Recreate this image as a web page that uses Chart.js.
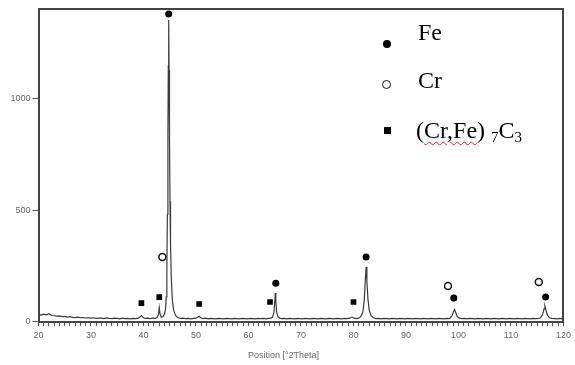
<!DOCTYPE html>
<html>
<head>
<meta charset="utf-8">
<script src="https://cdn.jsdelivr.net/npm/chart.js@4.4.0/dist/chart.umd.min.js"></script>
<style>
  html, body { margin: 0; padding: 0; background: #fff; }
  #wrap { position: relative; width: 575px; height: 365px; }
  #wrap canvas { position: absolute; left: 0; top: 0; }
  .key { position: absolute; font-family: "Liberation Serif", serif; font-size: 24px; line-height: 24px; color: #000; white-space: nowrap; }
  .key sub { font-size: 15px; line-height: 0; vertical-align: -4px; }
  .spell { text-decoration: underline wavy #e02020; text-decoration-thickness: 1px; text-underline-offset: 3px; }
  .dot { position: absolute; width: 8px; height: 8px; border-radius: 50%; background: #000; }
  .ring { position: absolute; width: 9px; height: 9px; border-radius: 50%; border: 1.5px solid #111; box-sizing: border-box; }
  .sq { position: absolute; width: 7px; height: 7px; background: #000; }
</style>
</head>
<body>
<div id="wrap">
  <canvas id="xrdChart" width="575" height="365"></canvas>
  <span class="dot" style="left:383px; top:40px;"></span>
  <div class="key" style="left:418px; top:20px;">Fe</div>
  <span class="ring" style="left:382px; top:80px;"></span>
  <div class="key" style="left:418px; top:68px;">Cr</div>
  <span class="sq" style="left:384px; top:127px;"></span>
  <div class="key" style="left:416px; top:118px;">(<span class="spell">Cr,Fe</span>) <sub>7</sub>C<sub>3</sub></div>
</div>
<script>
// diffractogram (2theta in degrees, counts)
const twoTheta = [
  20, 20.5, 21, 21.5, 22, 22.5, 23, 23.5, 24, 24.5, 25, 25.5, 26, 26.5, 27, 27.5, 28, 28.5, 29, 29.5,
  30, 30.5, 31, 31.5, 32, 32.5, 33, 33.5, 34, 34.5, 35, 35.5, 36, 36.5, 37, 37.5, 38, 38.5, 39, 39.3,
  39.6, 39.9, 40.3, 40.8, 41.3, 41.8, 42.2, 42.6, 42.85, 43.0, 43.15, 43.4, 43.7, 44.0, 44.2, 44.35, 44.45, 44.55, 44.65, 44.73,
  44.8, 44.87, 44.95, 45.05, 45.15, 45.3, 45.5, 45.75, 46.1, 46.5, 47, 47.5, 48, 48.5, 49, 49.5, 50, 50.3, 50.6, 50.9,
  51.3, 51.8, 52.3, 52.8, 53.3, 53.8, 54.3, 54.8, 55.3, 55.8, 56.3, 56.8, 57.3, 57.8, 58.3, 58.8, 59.3, 59.8, 60.3, 60.8,
  61.3, 61.8, 62.3, 62.8, 63.3, 63.8, 64.3, 64.6, 64.85, 65.0, 65.1, 65.2, 65.35, 65.6, 65.9, 66.3, 66.8, 67.3, 67.8, 68.3,
  68.8, 69.3, 69.8, 70.3, 70.8, 71.3, 71.8, 72.3, 72.8, 73.3, 73.8, 74.3, 74.8, 75.3, 75.8, 76.3, 76.8, 77.3, 77.8, 78.3,
  78.8, 79.3, 79.7, 80.1, 80.6, 81.0, 81.4, 81.8, 82.05, 82.25, 82.4, 82.55, 82.75, 83.0, 83.35, 83.8, 84.3, 84.8, 85.3, 85.8,
  86.3, 86.8, 87.3, 87.8, 88.3, 88.8, 89.3, 89.8, 90.3, 90.8, 91.3, 91.8, 92.3, 92.8, 93.3, 93.8, 94.3, 94.8, 95.3, 95.8,
  96.3, 96.8, 97.3, 97.8, 98.1, 98.4, 98.8, 99.1, 99.25, 99.45, 99.75, 100.2, 100.7, 101.2, 101.7, 102.2, 102.7, 103.2, 103.7, 104.2,
  104.7, 105.2, 105.7, 106.2, 106.7, 107.2, 107.7, 108.2, 108.7, 109.2, 109.7, 110.2, 110.7, 111.2, 111.7, 112.2, 112.7, 113.2, 113.7, 114.2,
  114.7, 115.2, 115.6, 116.0, 116.3, 116.45, 116.65, 116.95, 117.35, 117.8, 118.3, 118.8, 119.3, 119.8, 120
];
const counts = [
  30, 27, 31, 28, 33, 25, 24, 22, 23, 20, 21, 18, 20, 17, 16, 18, 15, 16, 14, 15,
  13, 15, 12, 14, 13, 11, 14, 12, 11, 13, 12, 10, 13, 11, 12, 10, 12, 11, 13, 18,
  25, 17, 12, 13, 11, 14, 12, 16, 30, 60, 32, 17, 20, 32, 55, 110, 240, 480, 850, 1150,
  1356, 1130, 820, 540, 340, 190, 95, 48, 25, 16, 12, 13, 11, 12, 10, 12, 13, 17, 22, 15,
  11, 13, 10, 12, 11, 10, 12, 11, 10, 12, 11, 10, 12, 11, 10, 12, 11, 10, 12, 11,
  10, 12, 11, 12, 10, 12, 13, 18, 40, 85, 126, 90, 42, 20, 14, 11, 12, 10, 12, 11,
  10, 12, 11, 10, 12, 11, 10, 12, 11, 10, 12, 11, 10, 12, 11, 10, 12, 11, 10, 12,
  11, 13, 18, 13, 11, 13, 20, 42, 95, 185, 243, 180, 100, 48, 24, 15, 11, 12, 10, 12,
  11, 10, 12, 11, 10, 12, 11, 10, 12, 11, 10, 12, 11, 10, 12, 11, 10, 12, 11, 10,
  12, 11, 10, 12, 11, 13, 26, 45, 52, 40, 20, 13, 11, 12, 10, 12, 11, 10, 12, 11,
  10, 12, 11, 10, 12, 11, 10, 12, 11, 10, 12, 11, 10, 12, 11, 10, 12, 11, 10, 12,
  11, 12, 14, 28, 55, 68, 50, 27, 15, 12, 11, 10, 12, 11, 12
];

// phase markers placed above the peaks
const feAngles = [44.8, 65.2, 82.4, 99.1, 116.6];
const feLevels = [1383, 170, 288, 104, 108];
const crAngles = [43.6, 98.0, 115.3];
const crLevels = [288, 158, 176];
const carbideAngles = [39.6, 43.0, 50.6, 64.1, 80.0];
const carbideLevels = [81, 108, 77, 86, 86];

const xLabels = [20, 30, 40, 50, 60, 70, 80, 90, 100, 110, 120];
const yLabels = [0, 500, 1000];

const tickFont = { family: 'Liberation Sans', size: 9 };
const pairs = (xs, ys) => xs.map((x, i) => ({ x: x, y: ys[i] }));

document.addEventListener("DOMContentLoaded", () => {
    const ctx = document.getElementById('xrdChart').getContext('2d');

    new Chart(ctx, {
        type: 'scatter',
        data: {
            datasets: [{
                label: 'pattern',
                data: pairs(twoTheta, counts),
                showLine: true,
                borderColor: '#3a3a3a',
                borderWidth: 1.2,
                pointRadius: 0,
                tension: 0
            }, {
                label: 'Fe',
                data: pairs(feAngles, feLevels),
                pointStyle: 'circle',
                pointRadius: 3.5,
                backgroundColor: '#000',
                borderColor: '#000',
                borderWidth: 0
            }, {
                label: 'Cr',
                data: pairs(crAngles, crLevels),
                pointStyle: 'circle',
                pointRadius: 3.5,
                backgroundColor: '#fff',
                borderColor: '#111',
                borderWidth: 1.5
            }, {
                label: '(Cr,Fe)7C3',
                data: pairs(carbideAngles, carbideLevels),
                pointStyle: 'rect',
                pointRadius: 4,
                backgroundColor: '#000',
                borderColor: '#000',
                borderWidth: 0
            }]
        },
        options: {
            responsive: false,
            animation: false,
            layout: { padding: { left: 0, right: 8, top: 9, bottom: 0 } },
            plugins: {
                legend: { display: false },
                tooltip: { enabled: false },
                title: {
                    display: true,
                    position: 'bottom',
                    text: 'Position [°2Theta]',
                    color: '#666',
                    font: { family: 'Liberation Sans', size: 9, weight: 'normal' },
                    padding: { top: 6, bottom: 4 }
                }
            },
            scales: {
                x: {
                    type: 'linear',
                    position: 'bottom',
                    min: 20,
                    max: 120,
                    afterBuildTicks: axis => {
                        const t = [];
                        for (let v = 20; v <= 120; v++) t.push({ value: v });
                        axis.ticks = t;
                    },
                    ticks: {
                        autoSkip: false,
                        maxRotation: 0,
                        padding: 4,
                        color: '#666',
                        font: tickFont,
                        callback: v => xLabels.includes(v) ? String(v) : ''
                    },
                    grid: { drawOnChartArea: false, tickLength: 4, color: '#555' },
                    border: { color: '#444', width: 2 },
                    afterFit: axis => { axis.height = 22; }
                },
                y: {
                    type: 'linear',
                    position: 'left',
                    min: -5,
                    max: 1405,
                    afterBuildTicks: axis => { axis.ticks = yLabels.map(v => ({ value: v })); },
                    ticks: { padding: 2, color: '#666', font: tickFont, callback: v => String(v) },
                    grid: { drawOnChartArea: false, tickLength: 6, color: '#555' },
                    border: { color: '#444', width: 2 },
                    afterFit: axis => { axis.width = 38.5; }
                },
                xTop: {
                    type: 'linear',
                    position: 'top',
                    min: 20,
                    max: 120,
                    ticks: { display: false },
                    grid: { display: false, drawTicks: false },
                    border: { color: '#444', width: 2 },
                    afterFit: axis => { axis.height = 0; }
                },
                yRight: {
                    type: 'linear',
                    position: 'right',
                    min: -5,
                    max: 1405,
                    ticks: { display: false },
                    grid: { display: false, drawTicks: false },
                    border: { color: '#444', width: 2 },
                    afterFit: axis => { axis.width = 0; }
                }
            }
        }
    });
});
</script>
</body>
</html>
